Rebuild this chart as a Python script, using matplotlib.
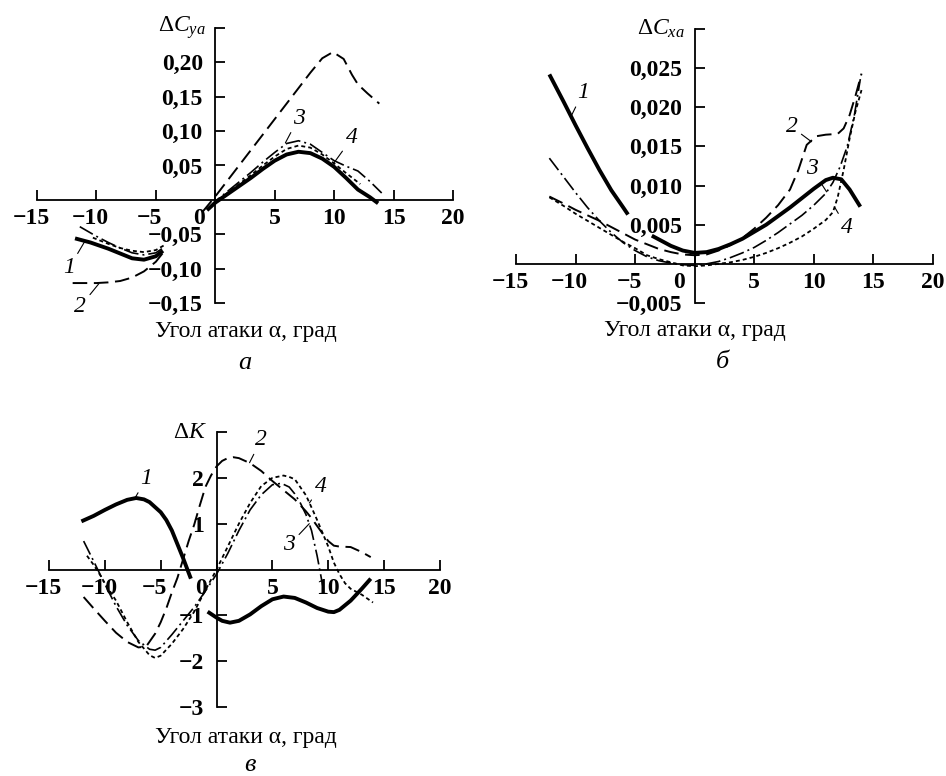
import matplotlib
matplotlib.use("Agg")
import matplotlib.pyplot as plt
import matplotlib.transforms as mtransforms
import numpy as np

plt.rcParams["font.family"] = ["Liberation Serif", "DejaVu Serif"]
plt.rcParams["mathtext.fontset"] = "custom"
plt.rcParams["mathtext.rm"] = "Liberation Serif"
plt.rcParams["mathtext.it"] = "Liberation Serif:italic"

nan = np.nan

# ---- panel a: delta Cya ----
a1_x = [-11.8, -10.5, -9, -8, -7, -6, -5, -4.4, nan,
        -0.7, 0, 1, 2, 3, 4, 5, 6, 7, 8, 9, 10, 11, 12, 13, 13.7]
a1_y = [-0.056, -0.062, -0.071, -0.078, -0.085, -0.087, -0.082, -0.074, nan,
        -0.015, -0.004, 0.008, 0.020, 0.032, 0.045, 0.057, 0.066, 0.070, 0.068,
        0.060, 0.048, 0.032, 0.015, 0.004, -0.005]
a2_x = [-12, -11, -10, -9, -8, -7, -6, -5, -4.4, nan,
        -1.1, 0, 2, 4, 6, 8, 9, 9.9, 10.8, 11.5, 12, 12.8, 13.8]
a2_y = [-0.121, -0.121, -0.121, -0.120, -0.118, -0.113, -0.104, -0.090, -0.077, nan,
        -0.018, 0.005, 0.050, 0.095, 0.140, 0.185, 0.206, 0.215, 0.205, 0.182,
        0.168, 0.155, 0.140]
a3_x = [-11.4, -10, -9, -8, -7, -6, -5, -4.4, nan,
        -0.5, 0, 1, 2, 3, 4, 5, 6, 7, 8, 9, 10, 11, 12, 13, 14]
a3_y = [-0.039, -0.053, -0.062, -0.070, -0.077, -0.080, -0.077, -0.070, nan,
        -0.012, -0.002, 0.012, 0.026, 0.040, 0.055, 0.069, 0.082, 0.086, 0.081,
        0.069, 0.057, 0.049, 0.042, 0.027, 0.010]
a4_x = [-10.3, -9, -8, -7, -6, -5, -4.3, nan,
        -0.5, 0, 1, 2, 3, 4, 5, 6, 7, 8, 9, 10, 11, 12.2]
a4_y = [-0.055, -0.064, -0.070, -0.074, -0.076, -0.073, -0.066, nan,
        -0.012, -0.003, 0.010, 0.023, 0.036, 0.050, 0.063, 0.074, 0.079, 0.076,
        0.066, 0.053, 0.039, 0.023]

# ---- panel b: delta Cxa ----
b1_x = [-12.2, -11, -10, -9, -8, -7, -6, -5.6, nan,
        -3.6, -2, -1, 0, 1, 2, 3, 4, 5, 6, 7, 8, 9, 10, 11, 11.6, 12.3, 13, 13.9]
b1_y = [0.0242, 0.0207, 0.0177, 0.0148, 0.0120, 0.0094, 0.0072, 0.0063, nan,
        0.0036, 0.0023, 0.0017, 0.0014, 0.0015, 0.0019, 0.0025, 0.0032, 0.0041,
        0.0050, 0.0061, 0.0072, 0.0084, 0.0096, 0.0107, 0.0110, 0.0108, 0.0095, 0.0073]
b2_x = [-12.2, -11, -10, -9, -8, -7, -6, -5, -4, -3, -2, -1, 0, 1, 2, 3, 4, 5,
        6, 7, 8, 8.7, 9.4, 10.2, 11, 12, 12.5, 13, 13.5, 14]
b2_y = [0.0086, 0.0077, 0.0069, 0.0062, 0.0055, 0.0047, 0.0039, 0.0031, 0.0025,
        0.0019, 0.0015, 0.0012, 0.0011, 0.0012, 0.0017, 0.0024, 0.0033, 0.0045,
        0.0059, 0.0075, 0.0095, 0.0120, 0.0152, 0.0163, 0.0165, 0.0166, 0.0173,
        0.0190, 0.0215, 0.0243]
b3_x = [-12.2, -11, -10, -9, -8, -7, -6, -5, -4, -3, -2, -1, 0, 1, 2, 3, 4, 5,
        6, 7, 8, 9, 10, 11, 11.6, 12.2, 12.8, 13.4, 13.9]
b3_y = [0.0135, 0.0111, 0.0091, 0.0072, 0.0055, 0.0040, 0.0027, 0.0017, 0.0009,
        0.0004, 0.0001, -0.0001, -0.0002, 0.0000, 0.0003, 0.0008, 0.0014, 0.0021,
        0.0030, 0.0040, 0.0051, 0.0062, 0.0075, 0.0090, 0.0104, 0.0124, 0.0150,
        0.0190, 0.0236]
b4_x = [-12.2, -11, -10, -9, -8, -7, -6, -5, -4, -3, -2, -1, 0, 1, 2, 3, 4, 5,
        6, 7, 8, 9, 10, 11, 11.6, 12, 12.5, 13, 13.5, 14]
b4_y = [0.0085, 0.0074, 0.0064, 0.0055, 0.0046, 0.0037, 0.0028, 0.0020, 0.0011,
        0.0006, 0.0002, -0.0002, -0.0003, -0.0002, 0.0000, 0.0002, 0.0005, 0.0009,
        0.0014, 0.0020, 0.0027, 0.0035, 0.0045, 0.0056, 0.0066, 0.0085, 0.0120,
        0.0160, 0.0195, 0.0222]

# ---- panel c: delta K ----
c1_x = [-12.1, -11, -10, -9, -8, -7.2, -6.5, -6, -5, -4.5, -4, -3.5, -3, -2.3, nan,
        -0.8, 0, 0.5, 1.2, 2, 3, 4, 5, 6, 7, 8, 9, 10, 10.5, 11, 12, 13, 13.8]
c1_y = [1.05, 1.17, 1.30, 1.42, 1.52, 1.56, 1.53, 1.47, 1.25, 1.08, 0.85, 0.55, 0.25,
        -0.20, nan, -0.92, -1.05, -1.12, -1.16, -1.12, -0.98, -0.80, -0.65, -0.59,
        -0.62, -0.72, -0.84, -0.92, -0.93, -0.88, -0.68, -0.42, -0.20]
c2_x = [-11.9, -11, -10, -9, -8, -7, -6.3, -5.5, -5, -4.5, -4, -3.5, -3, -2.5, -2,
        -1.5, -1, -0.5, 0, 0.5, 1, 1.5, 2, 3, 4, 5, 6, 7, 8, 8.5, 9, 9.5, 10, 10.5,
        11, 12, 13, 13.8]
c2_y = [-0.60, -0.85, -1.12, -1.38, -1.58, -1.70, -1.68, -1.40, -1.15, -0.85, -0.50,
        -0.18, 0.22, 0.62, 0.98, 1.40, 1.80, 2.05, 2.25, 2.37, 2.43, 2.45, 2.43, 2.32,
        2.15, 1.93, 1.73, 1.53, 1.27, 1.12, 0.95, 0.78, 0.62, 0.52, 0.50, 0.49, 0.38,
        0.27]
c3_x = [-11.9, -11, -10, -9, -8, -7, -6, -5.5, -5, -4, -3, -2, -1, 0, 1, 2, 3, 4,
        5, 5.8, 6.5, 7, 7.5, 8, 8.5, 9, 9.5]
c3_y = [0.62, 0.18, -0.32, -0.80, -1.22, -1.55, -1.74, -1.76, -1.70, -1.42, -1.12,
        -0.82, -0.47, -0.10, 0.35, 0.85, 1.30, 1.63, 1.85, 1.88, 1.80, 1.65, 1.45,
        1.20, 0.85, 0.30, -0.35]
c4_x = [-11.6, -11, -10.4, -10, -9, -8, -7, -6, -5.5, -5, -4, -3, -2, -1, 0, 1, 2,
        3, 4, 5, 6, 6.5, 7, 8, 8.6, 9, 9.5, 10, 10.5, 11, 11.5, 12, 13, 14]
c4_y = [0.30, 0.10, -0.13, -0.30, -0.68, -1.15, -1.58, -1.87, -1.93, -1.88, -1.62,
        -1.30, -0.92, -0.45, 0.00, 0.50, 1.00, 1.45, 1.82, 2.00, 2.05, 2.02, 1.97,
        1.62, 1.30, 1.08, 0.79, 0.50, 0.15, -0.10, -0.30, -0.42, -0.55, -0.72]

x_ticks = [-15, -10, -5, 0, 5, 10, 15, 20]
x_labels = ["−15", "−10", "−5", "0", "5", "10", "15", "20"]

a_yticks = [-0.15, -0.10, -0.05, 0.05, 0.10, 0.15, 0.20, 0.25]
a_ylabels = ["−0,15", "−0,10", "−0,05", "0,05", "0,10", "0,15", "0,20", ""]
b_yticks = [-0.005, 0.005, 0.010, 0.015, 0.020, 0.025, 0.030]
b_ylabels = ["−0,005", "0,005", "0,010", "0,015", "0,020", "0,025", ""]
c_yticks = [-3, -2, -1, 1, 2, 3]
c_ylabels = ["−3", "−2", "−1", "1", "2", ""]

STYLES = {
    1: dict(lw=2.8, ls="-"),
    2: dict(lw=1.4, ls=(0, (7.5, 3.4))),
    3: dict(lw=1.2, ls=(0, (9, 2.4, 1.2, 2.4))),
    4: dict(lw=1.3, ls=(0, (2.2, 1.7))),
}

XLABEL = "Угол атаки α, град"
FS = 17

fig = plt.figure(figsize=(9.46, 7.76), dpi=100)


def px_box(left, right, top, bottom):
    W, H = 946.0, 776.0
    return [left / W, 1 - bottom / H, (right - left) / W, (bottom - top) / H]


def setup(ax, ylim, yticks, ylabels, title):
    ax.set_xlim(-15, 20)
    ax.set_ylim(*ylim)
    for s in ["top", "right"]:
        ax.spines[s].set_visible(False)
    for s in ["left", "bottom"]:
        ax.spines[s].set_position(("data", 0))
        ax.spines[s].set_linewidth(1.3)
    ax.patch.set_alpha(0)
    ax.set_xticks(x_ticks, x_labels)
    ax.set_yticks(yticks, ylabels)
    ax.tick_params(direction="in", length=7, width=1.3, labelsize=FS)
    ax.tick_params(axis="x", pad=6)
    ax.tick_params(axis="y", pad=9)
    for lab in ax.get_xticklabels() + ax.get_yticklabels():
        lab.set_fontweight("bold")
    for lab in ax.get_xticklabels():
        t = lab.get_text()
        dx = -16 if t == "0" else (-6 if t.startswith("−") else 0)
        if dx:
            off = mtransforms.ScaledTranslation(dx / 100.0, 0, fig.dpi_scale_trans)
            lab.set_transform(lab.get_transform() + off)
    ax.annotate(title, xy=(0, ylim[1]), xytext=(-7, 0), textcoords="offset points",
                ha="right", va="center", fontsize=FS)


def curves(ax, data):
    for k, (x, y) in data.items():
        ax.plot(x, y, color="black", solid_capstyle="butt", **STYLES[k])


def tag(ax, text, xy, xytext):
    ax.annotate(text, xy=xy, xytext=xytext, textcoords="data", fontsize=FS,
                style="italic", ha="center", va="center", annotation_clip=False,
                arrowprops=dict(arrowstyle="-", lw=0.8, color="black",
                                shrinkA=1, shrinkB=0))


# panel a
ax_a = fig.add_axes(px_box(37, 453, 28, 303))
setup(ax_a, (-0.15, 0.25), a_yticks, a_ylabels, r"$\Delta C_{ya}$")
curves(ax_a, {1: (a1_x, a1_y), 2: (a2_x, a2_y), 3: (a3_x, a3_y), 4: (a4_x, a4_y)})
tag(ax_a, "1", (-11.0, -0.061), (-12.3, -0.099))
tag(ax_a, "2", (-9.8, -0.122), (-11.35, -0.155))
tag(ax_a, "3", (5.9, 0.083), (7.0, 0.119))
tag(ax_a, "4", (9.95, 0.053), (11.5, 0.090))

# panel b
ax_b = fig.add_axes(px_box(516, 933, 29, 303))
setup(ax_b, (-0.005, 0.030), b_yticks, b_ylabels, r"$\Delta C_{xa}$")
curves(ax_b, {1: (b1_x, b1_y), 2: (b2_x, b2_y), 3: (b3_x, b3_y), 4: (b4_x, b4_y)})
tag(ax_b, "1", (-10.36, 0.0189), (-9.39, 0.0219))
tag(ax_b, "2", (9.8, 0.0156), (8.13, 0.0175))
tag(ax_b, "3", (11.07, 0.0092), (9.8, 0.0122))
tag(ax_b, "4", (11.76, 0.0072), (12.77, 0.0046))

# panel c
ax_c = fig.add_axes(px_box(49, 440, 432, 707))
setup(ax_c, (-3, 3), c_yticks, c_ylabels, r"$\Delta K$")
curves(ax_c, {1: (c1_x, c1_y), 2: (c2_x, c2_y), 3: (c3_x, c3_y), 4: (c4_x, c4_y)})
tag(ax_c, "1", (-7.3, 1.56), (-6.28, 1.99))
tag(ax_c, "2", (2.95, 2.33), (3.99, 2.83))
tag(ax_c, "4", (8.3, 1.45), (9.35, 1.81))
tag(ax_c, "3", (8.3, 1.0), (6.52, 0.54))

# axis captions and panel letters
for (cx, cy) in [(246, 332), (695, 330), (246, 737)]:
    fig.text(cx / 946, 1 - cy / 776, XLABEL, ha="center", va="center", fontsize=FS)
for letter, (cx, cy) in zip(["а", "б", "в"], [(245, 363), (722, 362), (250, 765)]):
    fig.text(cx / 946, 1 - cy / 776, letter, ha="center", va="center",
             fontsize=19, style="italic")

fig.savefig("out.png", dpi=100, facecolor="white")
